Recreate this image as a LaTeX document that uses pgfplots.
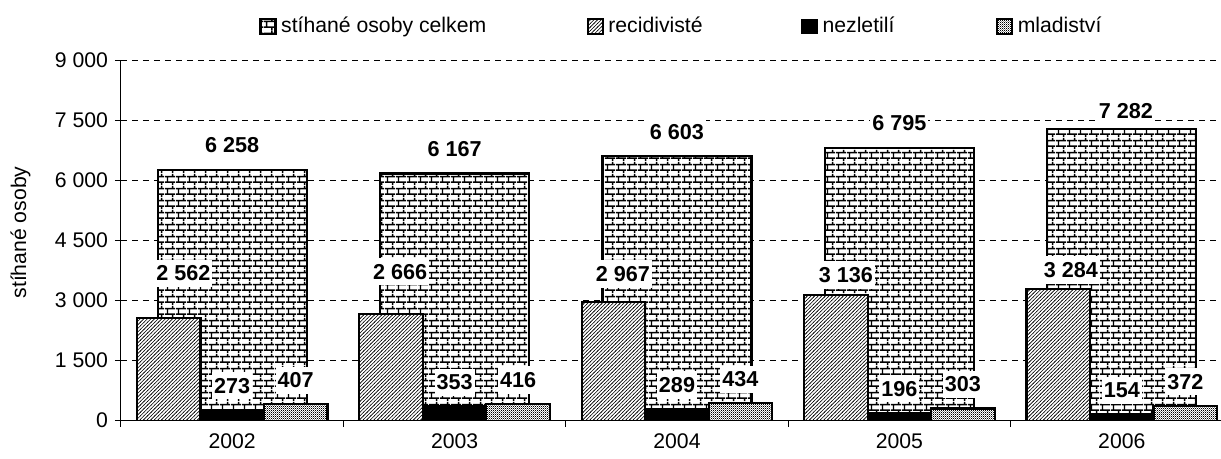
\documentclass[border=0pt]{standalone}
\usepackage{fontspec}
\setmainfont{Liberation Sans}
\usepackage{pgfplots}
\pgfplotsset{compat=1.18}
\usepackage{pgfplotstable}
\usetikzlibrary{patterns}

\pgfdeclarepatternformonly{cihly}{\pgfpointorigin}{\pgfqpoint{5.5pt}{5.8pt}}{\pgfqpoint{5.5pt}{5.8pt}}{%
 \pgfsetlinewidth{0.75pt}%
 \pgfpathmoveto{\pgfqpoint{0pt}{1.45pt}}\pgfpathlineto{\pgfqpoint{5.5pt}{1.45pt}}%
 \pgfpathmoveto{\pgfqpoint{0pt}{4.35pt}}\pgfpathlineto{\pgfqpoint{5.5pt}{4.35pt}}%
 \pgfpathmoveto{\pgfqpoint{1.375pt}{1.45pt}}\pgfpathlineto{\pgfqpoint{1.375pt}{4.35pt}}%
 \pgfpathmoveto{\pgfqpoint{4.125pt}{4.35pt}}\pgfpathlineto{\pgfqpoint{4.125pt}{5.8pt}}%
 \pgfpathmoveto{\pgfqpoint{4.125pt}{0pt}}\pgfpathlineto{\pgfqpoint{4.125pt}{1.45pt}}%
 \pgfusepath{stroke}}

\pgfdeclarepatternformonly{srafy}{\pgfqpoint{-0.2pt}{-0.2pt}}{\pgfqpoint{2pt}{2pt}}{\pgfqpoint{1.8pt}{1.8pt}}{%
 \pgfsetlinewidth{0.3pt}%
 \pgfpathmoveto{\pgfqpoint{-0.2pt}{-0.2pt}}\pgfpathlineto{\pgfqpoint{2pt}{2pt}}%
 \pgfusepath{stroke}}

\pgfdeclarepatternformonly{tecky}{\pgfpointorigin}{\pgfqpoint{1.2pt}{1.2pt}}{\pgfqpoint{1.2pt}{1.2pt}}{%
 \pgfpathrectangle{\pgfqpoint{0.1pt}{0.1pt}}{\pgfqpoint{0.37pt}{0.37pt}}%
 \pgfpathrectangle{\pgfqpoint{0.7pt}{0.7pt}}{\pgfqpoint{0.37pt}{0.37pt}}%
 \pgfusepath{fill}}

\pgfplotsset{mylegend/.style={legend image code/.code={\draw[##1,line width=0.6pt] (0pt,-3.6pt) rectangle (7.5pt,3.6pt);}}}

\pgfplotstableread{
x y dx dy
0 6258 0 12.5
1 6167 0 12.3
2 6603 0 12
3 6795 0 12.5
4 7282 2 9.1
}\celkem
\pgfplotstableread{
x y dx dy
0 2562 7.35 22.35
1 2666 4.5 21.1
2 2967 4.65 13.9
3 3136 5 10
4 3284 6.3 9.55
}\recid
\pgfplotstableread{
x y
0 273
1 353
2 289
3 196
4 154
}\nezl
\pgfplotstableread{
x y
0 407
1 416
2 434
3 303
4 372
}\mlad

\begin{document}
\begin{tikzpicture}
\begin{axis}[
 at={(0pt,0pt)}, anchor=south west,
 width=556pt, height=180.35pt, scale only axis,
 xmin=-0.5, xmax=4.5, ymin=0, ymax=9000,
 ybar,
 xtick={-0.5,0.5,1.5,2.5,3.5,4.5},
 x tick label as interval,
 xticklabels={2002,2003,2004,2005,2006},
 ytick={0,1500,3000,4500,6000,7500,9000},
 yticklabels={0,1 500,3 000,4 500,6 000,7 500,9 000},
 axis x line*=bottom, axis y line*=left,
 tick align=outside, major tick length=3pt,
 tick style={black, line width=0.5pt},
 axis line style={black, line width=0.5pt},
 ymajorgrids, grid style={black, line width=0.5pt, dash pattern=on 3pt off 2.5pt},
 ticklabel style={font=\fontsize{10.6}{12}\selectfont},
 ylabel={stíhané osoby},
 ylabel style={at={(axis description cs:-0.0904,0.522)}, anchor=center, font=\fontsize{10.6}{12}\selectfont},
 legend columns=4,
 legend style={at={(axis description cs:0.125,1.093)}, anchor=west, draw=none, fill=none,
   inner sep=0pt, outer sep=0pt,
   /tikz/every odd column/.append style={column sep=2.5pt},
   /tikz/every even column/.append style={column sep=0pt},
   nodes={inner sep=0pt, font=\fontsize{10.6}{12}\selectfont}},
 nodes near coords={\pgfmathprintnumber[assume math mode=true,1000 sep={\ }]{\pgfplotspointmeta}},
 every node near coord/.append style={font=\fontsize{10.8}{12}\selectfont\bfseries, fill=white, text=black, inner xsep=1pt, inner ysep=3pt},
]
\addplot[draw=black, line width=1.1pt, preaction={fill=white}, pattern=cihly, bar width=0.67, bar shift=0, mylegend,
  visualization depends on={\thisrow{dx} \as \dx}, visualization depends on={\thisrow{dy} \as \dy},
  every node near coord/.append style={anchor=center, xshift=\dx pt, yshift=\dy pt}] table[x=x,y=y]{\celkem};
\addlegendentry{\makebox[153pt][l]{stíhané osoby celkem}}
\addplot[draw=black, line width=1.1pt, preaction={fill=white}, pattern=srafy, bar width=0.2855, bar shift=-0.2855, mylegend,
  visualization depends on={\thisrow{dx} \as \dx}, visualization depends on={\thisrow{dy} \as \dy},
  every node near coord/.append style={anchor=center, xshift=\dx pt, yshift=\dy pt}] table[x=x,y=y]{\recid};
\addlegendentry{\makebox[96.5pt][l]{recidivisté}}
\addplot[draw=black, line width=1.1pt, fill=black, bar width=0.2855, bar shift=0, mylegend,
  every node near coord/.append style={anchor=center, yshift=12pt}] table[x=x,y=y]{\nezl};
\addlegendentry{\makebox[87pt][l]{nezletilí}}
\addplot[draw=black, line width=1.1pt, preaction={fill=white}, pattern=tecky, bar width=0.2855, bar shift=0.2855, mylegend,
  every node near coord/.append style={anchor=center, yshift=12pt}] table[x=x,y=y]{\mlad};
\addlegendentry{mladiství}
\end{axis}
\pgfresetboundingbox
\path[use as bounding box] (-60.5pt,-19.15pt) rectangle (550pt,210.35pt);
\end{tikzpicture}
\end{document}
